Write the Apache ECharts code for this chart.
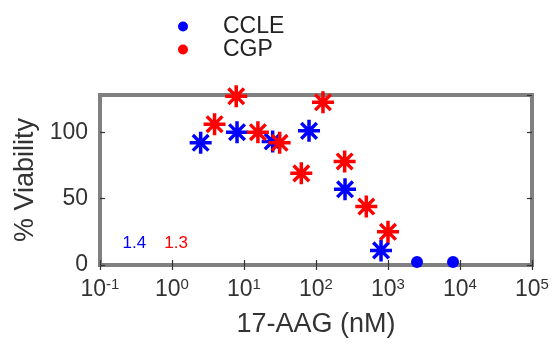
<!DOCTYPE html>
<html><head><meta charset="utf-8">
<script src="https://cdn.jsdelivr.net/npm/echarts@6/dist/echarts.min.js"></script>
<style>html,body{margin:0;padding:0;background:#fff}#c{width:557px;height:344px}</style>
</head><body><div id="c"></div>
<script>
// ---- data ----
const seriesNames = ['CCLE', 'CGP'];
const ccleDose = [2.5, 8, 25, 80, 253, 800, 2530, 8000];          // nM
const ccleViability = [92, 100, 93, 101, 57, 11, 2.3, 2.3];        // %
const ccleMarker = ['star', 'star', 'star', 'star', 'star', 'star', 'dot', 'dot'];
const cgpDose = [3.9, 7.8, 15.6, 31.25, 62.5, 125, 250, 500, 1000]; // nM
const cgpViability = [106, 127, 100, 92, 69, 122.5, 78, 44, 25];    // %
const xTickExponents = [-1, 0, 1, 2, 3, 4, 5];
const yTicks = [0, 50, 100];
const annotText = ['1.4', '1.3'];
const annotDose = [0.3, 1.14];
const annotViability = [16.5, 16.5];
const xName = '17-AAG (nM)';
const yName = '% Viability';

// ---- style ----
const FONT = '"Liberation Sans", Arial, Helvetica, sans-serif';
const TXT = '#333333';
const BLUE = '#0000ff', RED = '#ff0000';
const ASTER = 'path://M0 42L100 42L100 58L0 58Z M42 0L58 0L58 100L42 100Z M20 9L91 80L80 91L9 20Z M80 9L91 20L20 91L9 80Z';

const chart = echarts.init(document.getElementById('c'), null, {renderer: 'canvas'});

const xMin = Math.pow(10, xTickExponents[0]);
const xMax = Math.pow(10, xTickExponents[xTickExponents.length - 1]);

function xLabel(v) {
  const e = Math.round(Math.log10(v));
  return '{a|10}{b|' + e + '}';
}

const tickStyle = {show: true, inside: true, length: 5, lineStyle: {color: '#333', width: 1.2}};

const option = {
  animation: false,
  textStyle: {fontFamily: FONT},
  grid: {left: 100, right: 25, top: 95, bottom: 79, show: true, borderColor: '#808080', borderWidth: 4, backgroundColor: 'transparent'},
  legend: {
    orient: 'vertical', left: 173, top: 10, itemWidth: 10, itemHeight: 10, itemGap: 0,
    selectedMode: false,
    data: seriesNames.map(n => ({name: n, icon: 'circle'})),
    textStyle: {fontFamily: FONT, fontSize: 23, lineHeight: 21, color: '#222', padding: [0, 0, 0, 30]}
  },
  xAxis: [{
    type: 'log', logBase: 10, min: xMin, max: xMax,
    axisLine: {show: false}, splitLine: {show: false},
    axisTick: tickStyle,
    axisLabel: {
      margin: 12, formatter: xLabel,
      rich: {
        a: {fontFamily: FONT, fontSize: 23, color: TXT, lineHeight: 26},
        b: {fontFamily: FONT, fontSize: 15, color: TXT, verticalAlign: 'top', lineHeight: 16}
      }
    },
    name: xName, nameLocation: 'middle', nameGap: 46,
    nameTextStyle: {fontFamily: FONT, fontSize: 27, color: TXT}
  }, {
    type: 'log', logBase: 10, min: xMin, max: xMax, position: 'top',
    axisLine: {show: false}, splitLine: {show: false}, axisTick: tickStyle, axisLabel: {show: false}
  }],
  yAxis: [{
    type: 'value', min: yTicks[0], max: 128, interval: yTicks[1] - yTicks[0],
    axisLine: {show: false}, splitLine: {show: false},
    axisTick: tickStyle,
    axisLabel: {margin: 12, fontFamily: FONT, fontSize: 23, color: TXT, showMaxLabel: false,
      formatter: v => (yTicks.indexOf(v) >= 0 ? String(v) : '')},
    name: yName, nameLocation: 'middle', nameGap: 60,
    nameTextStyle: {fontFamily: FONT, fontSize: 27, color: TXT}
  }, {
    type: 'value', min: yTicks[0], max: 128, interval: yTicks[1] - yTicks[0], position: 'right',
    axisLine: {show: false}, splitLine: {show: false}, axisTick: tickStyle, axisLabel: {show: false}
  }],
  series: [{
    name: seriesNames[0], type: 'scatter', color: BLUE, itemStyle: {opacity: 1},
    data: ccleDose.map((d, i) => ({
      value: [d, ccleViability[i]],
      symbol: ccleMarker[i] === 'dot' ? 'circle' : ASTER,
      symbolSize: ccleMarker[i] === 'dot' ? 12 : 22
    }))
  }, {
    name: seriesNames[1], type: 'scatter', color: RED, itemStyle: {opacity: 1},
    symbol: ASTER, symbolSize: 22,
    data: cgpDose.map((d, i) => [d, cgpViability[i]])
  }, {
    name: 'annot', type: 'scatter', symbolSize: 1, itemStyle: {color: 'rgba(0,0,0,0)', opacity: 1}, silent: true,
    data: annotDose.map((d, i) => ({
      value: [d, annotViability[i]],
      label: {show: true, position: 'inside', formatter: annotText[i], fontFamily: FONT, fontSize: 17,
        color: i === 0 ? BLUE : RED}
    }))
  }]
};
chart.setOption(option);
</script>
</body></html>
